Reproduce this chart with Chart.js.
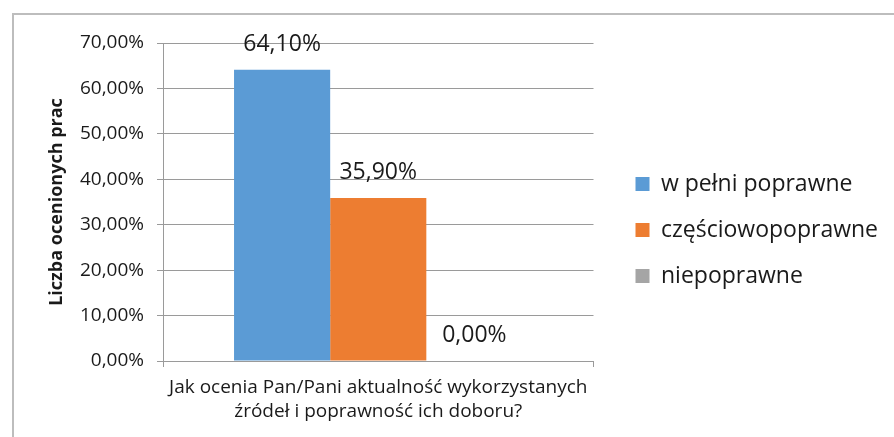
<!DOCTYPE html>
<html>
<head>
<meta charset="utf-8">
<script src="https://cdn.jsdelivr.net/npm/chart.js@4/dist/chart.umd.min.js"></script>
<style>
  html, body { margin: 0; padding: 0; background: #fff; }
  #wrap { position: relative; width: 894px; height: 437px; overflow: hidden; }
  #frame {
    position: absolute; left: 12px; top: 13px; width: 1000px; height: 1000px;
    border-left: 2px solid #bdbdbd; border-top: 2px solid #bdbdbd;
  }
  #myChart { position: absolute; left: 0; top: 0; }
</style>
</head>
<body>
<div id="wrap">
  <div id="frame"></div>
  <canvas id="myChart" width="894" height="437"></canvas>
</div>
<script>
const categories = [
  ["Jak ocenia Pan/Pani aktualność wykorzystanych", "źródeł i poprawność ich doboru?"],
];
const seriesNames = ["w pełni poprawne", "częściowopoprawne", "niepoprawne"];
const seriesValues = [[64.1], [35.9], [0]];
const seriesColors = ["#5b9bd5", "#ed7d31", "#a5a5a5"];

const fontName = "'Open Sans', sans-serif";
const gridColor = "#9a9a9a";
const textColor = "#1a1a1a";

const pct = (v) => v.toFixed(2).replace(".", ",") + "%";

// value above each bar
const barValues = {
  id: "barValues",
  afterDatasetsDraw(chart) {
    const ctx = chart.ctx;
    ctx.save();
    ctx.font = "23px " + fontName;
    ctx.fillStyle = textColor;
    ctx.textAlign = "center";
    ctx.textBaseline = "alphabetic";
    chart.data.datasets.forEach((ds, i) => {
      chart.getDatasetMeta(i).data.forEach((bar, j) => {
        ctx.fillText(pct(ds.data[j]), bar.x, bar.y - 19);
      });
    });
    ctx.restore();
  },
};

// move the legend away from the plot and slightly up
const legendGap = {
  id: "legendGap",
  afterLayout(chart) {
    const l = chart.legend;
    l.left += 19;
    l.right += 19;
    l.top -= 10;
    l.bottom -= 10;
  },
};

const datasets = seriesNames.map((name, i) => ({
  label: name,
  data: seriesValues[i],
  backgroundColor: seriesColors[i],
  borderWidth: 0,
  categoryPercentage: 0.67,
  barPercentage: 1,
}));

const ctx = document.getElementById("myChart").getContext("2d");
const myChart = new Chart(ctx, {
  type: "bar",
  data: { labels: categories, datasets: datasets },
  options: {
    responsive: false,
    animation: false,
    layout: { padding: { top: 43, right: 25, bottom: 0, left: 0 } },
    plugins: {
      tooltip: { enabled: false },
      legend: {
        position: "right",
        align: "center",
        maxWidth: 400,
        labels: {
          boxWidth: 14,
          boxHeight: 14,
          padding: 23,
          color: textColor,
          font: { family: fontName, size: 23 },
        },
      },
    },
    scales: {
      x: {
        afterFit: (s) => { s.height = 76; },
        grid: {
          display: true,
          drawOnChartArea: false,
          drawTicks: true,
          tickLength: 6,
          color: gridColor,
          offset: true,
        },
        border: { display: true, color: gridColor },
        ticks: {
          padding: 9,
          color: textColor,
          font: { family: fontName, size: 19, lineHeight: 1.26 },
        },
      },
      y: {
        min: 0,
        max: 70,
        afterFit: (s) => { s.width = 163; },
        grid: { color: gridColor, tickLength: 6, drawTicks: true },
        border: { display: true, color: gridColor },
        ticks: {
          stepSize: 10,
          padding: 13,
          color: textColor,
          font: { family: fontName, size: 19 },
          callback: (v) => pct(v),
        },
        title: {
          display: true,
          text: "Liczba ocenionych prac",
          color: textColor,
          padding: { top: 46, bottom: 0 },
          font: { family: fontName, size: 18, weight: "bold" },
        },
      },
    },
  },
  plugins: [barValues, legendGap],
});
</script>
</body>
</html>
